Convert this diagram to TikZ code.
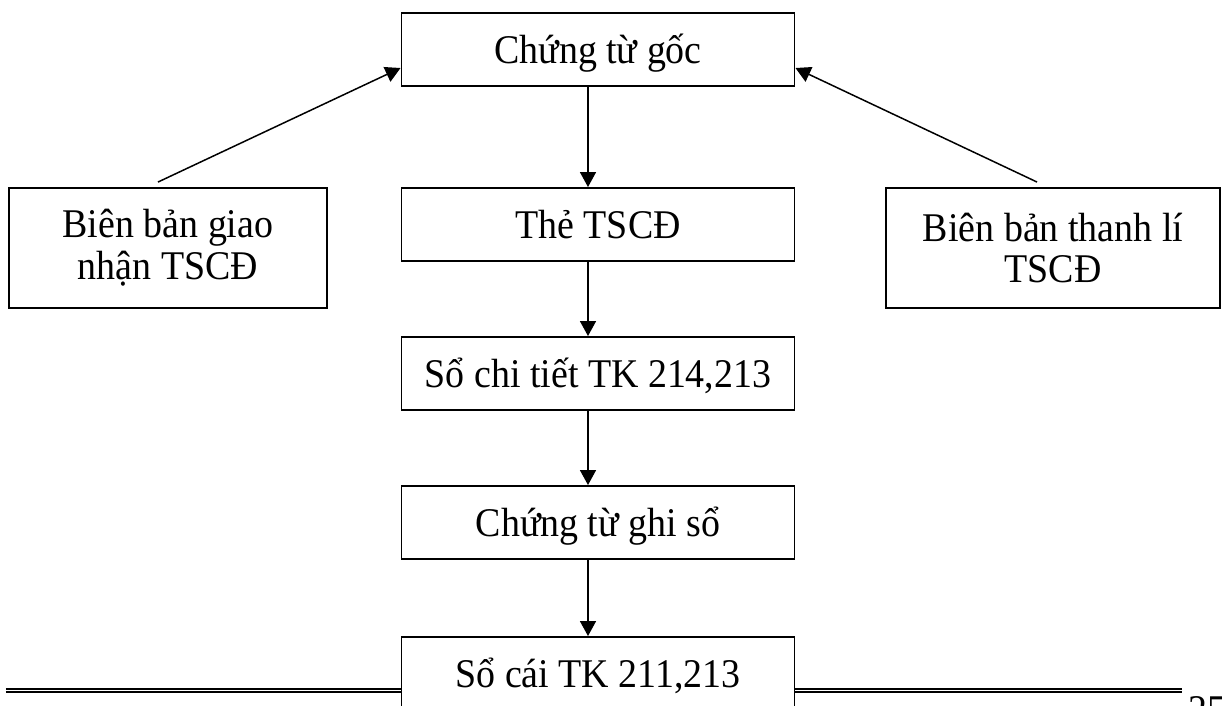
\documentclass[tikz,border=0pt]{standalone}
\usepackage{fontspec}
\setmainfont[FakeStretch=0.93]{Liberation Serif}
\usetikzlibrary{arrows.meta}

\tikzset{blk/.style={draw, line width=1.1pt, fill=white, align=center, font=\fontsize{23.2}{23.8}\selectfont}}
\tikzset{one/.style={blk, minimum width=7.86cm, minimum height=1.46cm, text height=0.54cm, text depth=0cm}}
\tikzset{arr/.style={-{Triangle[length=0.3cm, width=0.32cm]}, line width=0.85pt}}

\begin{document}
\begin{tikzpicture}[]
    \useasboundingbox (0,0) rectangle (24.44,-14.1);

    \node[one] (goc) at (11.96,-0.99) {Chứng từ gốc};

    \node[one] (the) at ([yshift=-3.5cm] goc) {Thẻ TSCĐ};
    \node[one] (chitiet) at ([yshift=-6.48cm] goc) {Sổ chi tiết TK 214,213};
    \node[one] (ghiso) at ([yshift=-9.46cm] goc) {Chứng từ ghi sổ};

    \node[blk, minimum width=6.36cm, minimum height=2.4cm] (giao) at ([yshift=-3.97cm, xshift=-8.6cm] goc) {Biên bản giao\\nhận TSCĐ};
    \node[blk, minimum width=6.68cm, minimum height=2.4cm] (thanhli) at ([yshift=-3.97cm, xshift=9.1cm] goc) {Biên bản thanh lí\\TSCĐ};

    % page rule
    \coordinate (rule_l) at (0.12,-13.78);
    \coordinate (rule_r) at (23.64,-13.78);
    \draw[line width=1.15pt] (rule_l) -- (rule_r);
    \draw[line width=1.15pt] ([yshift=-0.065cm]rule_l) -- ([yshift=-0.065cm]rule_r);

    \node[one] (socai) at ([yshift=-12.48cm] goc) {Sổ cái TK 211,213};

    \node[anchor=base west, inner sep=0pt, font=\fontsize{23.2}{23.8}\selectfont] (trang) at (23.76,-14.46) {25};

    \draw[arr] ([xshift=-0.2cm, yshift=0.1cm]giao.north) -- ([yshift=-0.37cm]goc.west);
    \draw[arr] ([xshift=-0.32cm, yshift=0.1cm]thanhli.north) -- ([yshift=-0.37cm]goc.east);

    \draw[arr] ([xshift=-0.2cm]goc.south) -- ([xshift=-0.2cm]the.north);
    \draw[arr] ([xshift=-0.2cm]the.south) -- ([xshift=-0.2cm]chitiet.north);
    \draw[arr] ([xshift=-0.2cm]chitiet.south) -- ([xshift=-0.2cm]ghiso.north);
    \draw[arr] ([xshift=-0.2cm]ghiso.south) -- ([xshift=-0.2cm]socai.north);

\end{tikzpicture}
\end{document}
